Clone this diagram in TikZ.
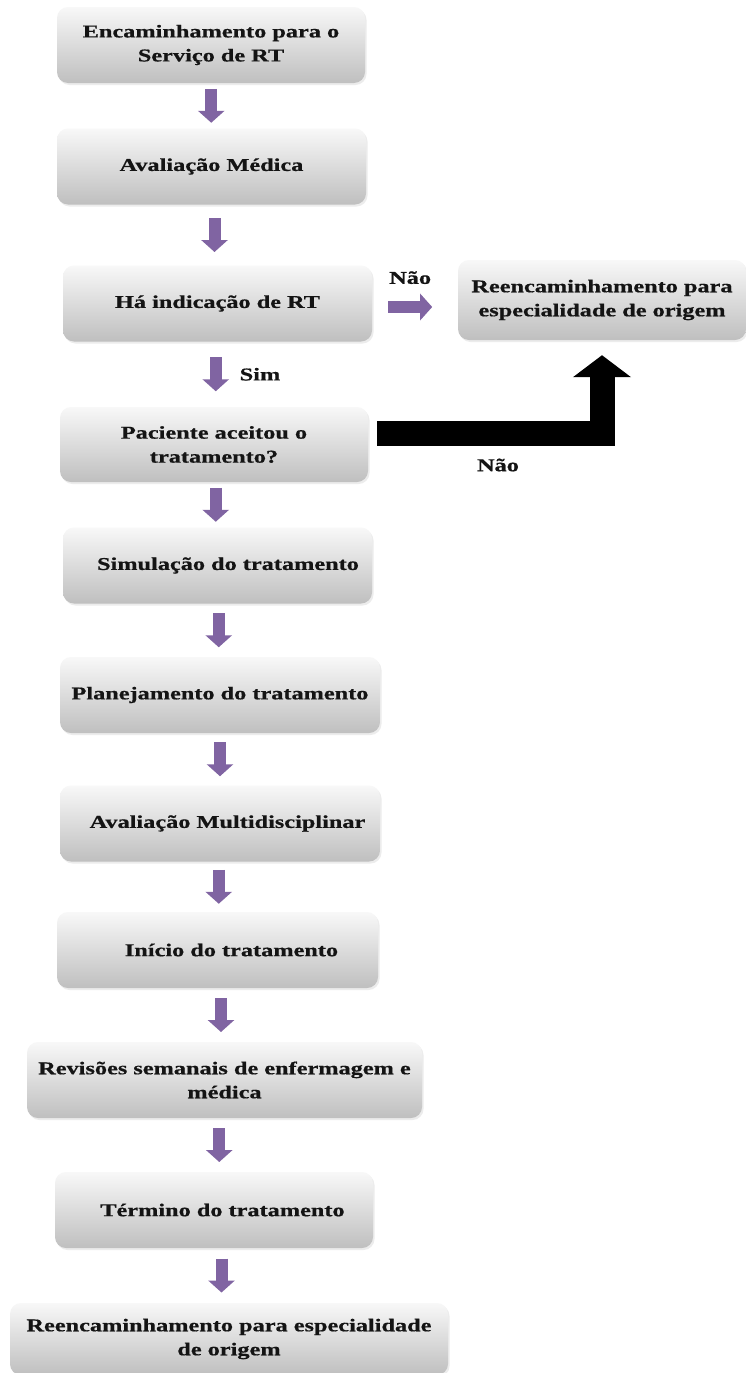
\documentclass[tikz,border=0pt]{standalone}
\usepackage{fontspec}
\setmainfont{Liberation Serif}[FakeStretch=1.35, BoldFeatures={FakeBold=0.7}]
\usetikzlibrary{arrows.meta,calc,shadows}
\definecolor{flowpurple}{HTML}{8064A2}
\definecolor{boxtop}{HTML}{F8F8F8}
\definecolor{boxbottom}{HTML}{BFBFBF}
\definecolor{inkblack}{HTML}{141414}
\tikzset{
  stepbox/.style={
    rectangle, rounded corners=11pt, draw=none, align=center,
    top color=boxtop, bottom color=boxbottom,
    font=\fontsize{18}{24}\selectfont\bfseries, text=inkblack,
    inner sep=0pt, minimum height=76pt,
    drop shadow={opacity=0.15, shadow xshift=1.5pt, shadow yshift=-2pt},
  },
  parrow/.style={draw=flowpurple, line width=12pt,
    -{Triangle[width=26pt,length=12pt]}},
  backarrow/.style={draw=black, line width=25pt, line join=miter,
    -{Triangle[width=57pt,length=22pt]}},
  lbl/.style={font=\fontsize{18}{24}\selectfont\bfseries, text=inkblack,
    inner sep=1pt},
}

\begin{document}
\begin{tikzpicture}[x=1pt, y=-1pt]

% short purple arrow centred in the gap between two boxes
\newcommand{\stepflow}[2]{%
  \draw[parrow] ($(#1.south)!0.5!(#2.north)$) ++(0,-17) -- ++(0,34);
}

\path[use as bounding box, fill=white] (0,0) rectangle (746,1373);

% ============================================ main column
\node[stepbox, minimum width=308pt] (enc) at (211,45)
  {Encaminhamento para o\\Serviço de RT};
\node[stepbox, minimum width=309pt] (aval) at (211.5,166.5) {Avaliação Médica};
\node[stepbox, minimum width=309pt] (ind) at (217.5,303.5) {Há indicação de RT};
\node[stepbox, minimum width=308pt, minimum height=75pt] (pac) at (214,444.5)
  {Paciente aceitou o\\tratamento?};
\node[stepbox, minimum width=309pt] (simu) at (217.5,565.5)
  {\hspace*{21pt}Simulação do tratamento};
\node[stepbox, minimum width=320pt] (plan) at (220,695)
  {Planejamento do tratamento};
\node[stepbox, minimum width=320pt] (multi) at (220,823.5)
  {\hspace*{15pt}Avaliação Multidisciplinar};
\node[stepbox, minimum width=321pt] (ini) at (217.5,950)
  {\hspace*{28pt}Início do tratamento};
\node[stepbox, minimum width=395pt] (rev) at (224.5,1080)
  {Revisões semanais de enfermagem e\\médica};
\node[stepbox, minimum width=318pt] (term) at (214,1210)
  {\hspace*{17pt}Término do tratamento};
\node[stepbox, minimum width=438pt, minimum height=72pt] (fim) at (229,1339)
  {Reencaminhamento para especialidade\\de origem};

% ============================================ side box
\node[stepbox, minimum width=288pt, minimum height=80pt] (reenc) at (602,300)
  {Reencaminhamento para\\especialidade de origem};

% ============================================ arrows
\stepflow{enc}{aval}
\stepflow{aval}{ind}
\stepflow{pac}{simu}
\stepflow{simu}{plan}
\stepflow{plan}{multi}
\stepflow{multi}{ini}
\stepflow{ini}{rev}
\stepflow{rev}{term}
\stepflow{term}{fim}

\draw[parrow] ($(ind.south)!0.5!(pac.north)$) ++(0,-17) -- ++(0,34)
  node[lbl, midway, right=17pt] (simlbl) {Sim};
\draw[parrow] ([yshift=-3.5pt]ind.east) ++(16,0) -- ++(44,0)
  node[lbl, midway, above=16pt] (naolbl) {Não};

% patient refuses: back to the referring specialty
\draw[backarrow] ([yshift=11pt]pac.east) ++(9,0) -| ([yshift=-15pt]reenc.south);
\node[lbl] (recusalbl) at (498,465) {Não};

\end{tikzpicture}
\end{document}
